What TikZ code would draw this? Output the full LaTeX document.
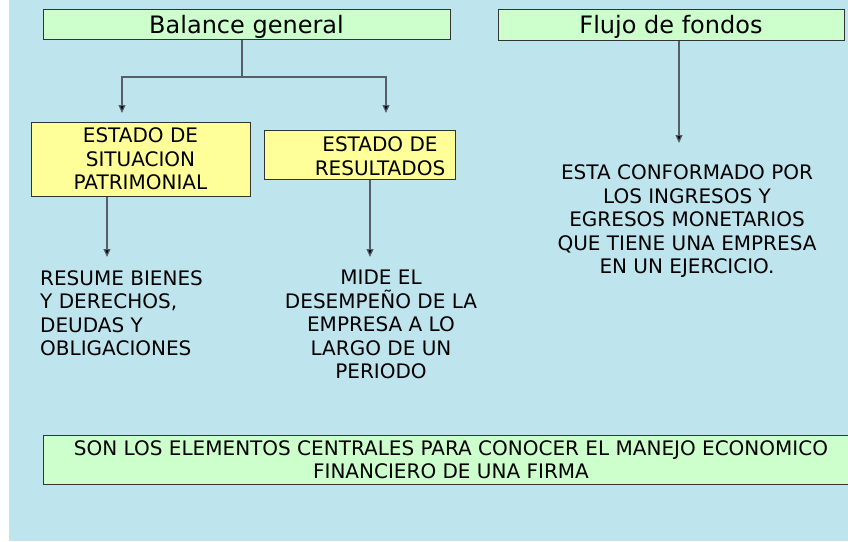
\documentclass[tikz,border=0pt]{standalone}
\usepackage{fontspec}
\setmainfont{DejaVu Sans}
\usetikzlibrary{arrows.meta}

\definecolor{fondo}{RGB}{190,228,238}
\definecolor{verde}{RGB}{204,255,204}
\definecolor{amarillo}{RGB}{255,255,153}
\definecolor{gris}{RGB}{85,95,105}

\tikzset{
  titulo/.style={draw=black!80, fill=verde, line width=1pt, inner sep=0pt, text depth=0pt, font=\fontsize{24}{28}\selectfont},
  resumen/.style={draw=black!80, fill=verde, line width=1pt, inner sep=0pt, align=center, font=\fontsize{20}{23.5}\selectfont},
  estado/.style={draw=black!80, fill=amarillo, line width=1pt, inner sep=0pt},
  texto/.style={inner sep=0pt, font=\fontsize{20}{23.5}\selectfont},
  conector/.style={draw=gris, line width=1.2pt},
  flecha/.style={conector, -{Triangle[width=7pt,length=8pt,fill=black]}}
}

\begin{document}
\begin{tikzpicture}[x=1pt,y=-1pt]
    \useasboundingbox (0,0) rectangle (848,541);
    \fill[fondo] (9,0) rectangle (848,541);

    \node[titulo, minimum width=407pt, minimum height=30pt] (bal) at (246.5,24) {Balance general};
    \node[titulo, minimum width=346pt, minimum height=31pt] (flu) at (671,24.5) {Flujo de fondos};

    \node[estado, minimum width=219pt, minimum height=74pt, align=center, font=\fontsize{20}{23.5}\selectfont] (esp) at (140.5,159)
        {ESTADO DE\\SITUACION\\PATRIMONIAL};
    \node[estado, minimum width=191pt, minimum height=49pt] (er) at (359.5,154.5) {};
    \node[texto, align=center] (ertxt) at (380,156) {ESTADO DE\\RESULTADOS};

    \node[texto, anchor=north west, align=left] (bienes) at (40,270)
        {RESUME BIENES\\Y DERECHOS,\\DEUDAS Y\\OBLIGACIONES};
    \node[texto, anchor=north, align=center] (mide) at (381,270)
        {MIDE EL\\DESEMPEÑO DE LA\\EMPRESA A LO\\LARGO DE UN\\PERIODO};
    \node[texto, anchor=north, align=center] (ingresos) at (687,164.5)
        {ESTA CONFORMADO POR\\LOS INGRESOS Y\\EGRESOS MONETARIOS\\QUE TIENE UNA EMPRESA\\EN UN EJERCICIO.};

    \node[resumen, minimum width=816pt, minimum height=49pt] (firma) at (451,459.5)
        {SON LOS ELEMENTOS CENTRALES PARA CONOCER EL MANEJO ECONOMICO\\FINANCIERO DE UNA FIRMA};

    % puntas de flecha
    \coordinate (ramal) at (242,77);
    \coordinate (pA) at (122,113);
    \coordinate (pB) at (386,113);
    \coordinate (pC) at (679,143);
    \coordinate (pD) at (107,257);
    \coordinate (pE) at (370,257);

    \draw[conector] (ramal |- bal.south) -- (ramal);
    \draw[flecha] (ramal) -| (pA);
    \draw[flecha] (ramal) -| (pB);
    \draw[flecha] (pC |- flu.south) -- (pC);
    \draw[flecha] (pD |- esp.south) -- (pD);
    \draw[flecha] (pE |- er.south) -- (pE);
\end{tikzpicture}
\end{document}
